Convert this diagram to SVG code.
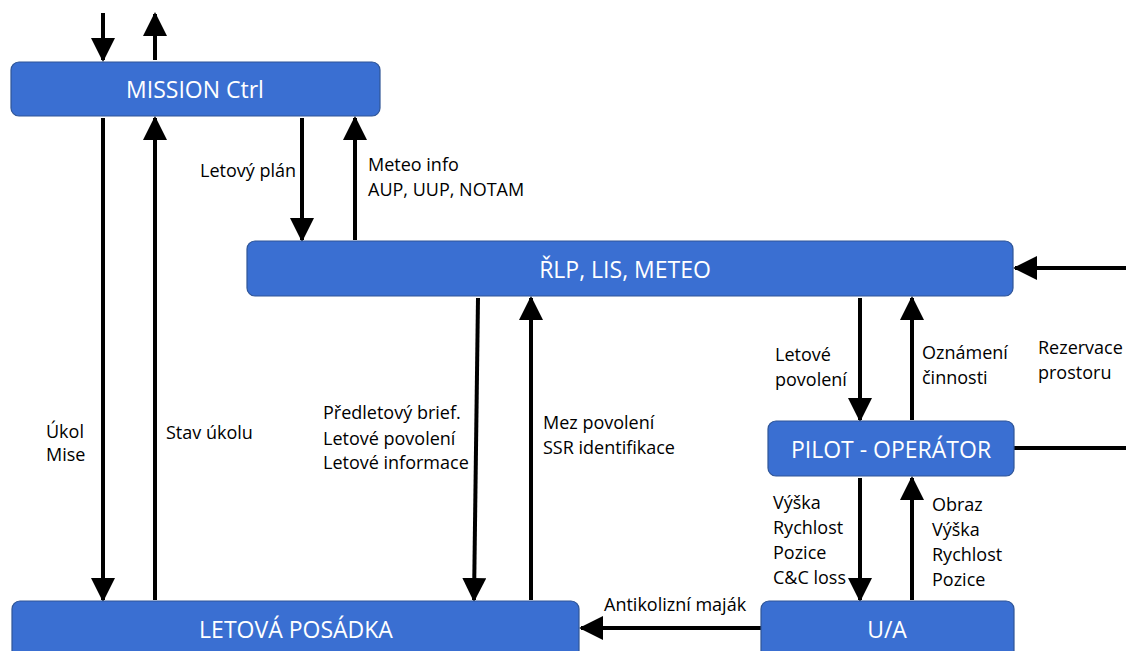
<svg xmlns="http://www.w3.org/2000/svg" width="1126" height="651" viewBox="0 0 1126 651">
<defs>
<marker id="ah" markerWidth="6" markerHeight="6" refX="5.5" refY="3" orient="auto" markerUnits="strokeWidth" viewBox="0 0 6 6">
<path d="M0,0 L6,3 L0,6 Z" fill="#000"/>
</marker>
</defs>
<style>
.box{fill:#3A6FD2;stroke:#2F5597;stroke-width:1.2}
.bt{font-family:"Open Sans","Noto Sans",sans-serif;font-size:23px;fill:#fff;text-anchor:middle}
.lb{font-family:"Open Sans","Noto Sans",sans-serif;font-size:18px;fill:#000}
.ar{stroke:#000;stroke-width:4;fill:none;marker-end:url(#ah)}
.ln{stroke:#000;stroke-width:4;fill:none}
</style>
<rect width="1126" height="651" fill="#fff"/>
<g id="connectors">
<line class="ar" x1="103" y1="13" x2="103" y2="60"/>
<line class="ar" x1="155" y1="60" x2="155" y2="14"/>
<line class="ar" x1="103" y1="118" x2="103" y2="600"/>
<line class="ar" x1="155" y1="600" x2="155" y2="118"/>
<line class="ar" x1="302" y1="118" x2="302" y2="240"/>
<line class="ar" x1="355" y1="240" x2="355" y2="118"/>
<line class="ar" x1="478" y1="298" x2="474" y2="600"/>
<line class="ar" x1="531" y1="600" x2="531" y2="298"/>
<line class="ar" x1="860" y1="298" x2="860" y2="420"/>
<line class="ar" x1="912" y1="420" x2="912" y2="298"/>
<line class="ar" x1="1126" y1="268" x2="1015" y2="268"/>
<line class="ln" x1="1014" y1="448" x2="1126" y2="448"/>
<line class="ar" x1="860" y1="478" x2="860" y2="600"/>
<line class="ar" x1="912" y1="600" x2="912" y2="478"/>
<line class="ar" x1="761" y1="628" x2="581" y2="628"/>
</g>
<g id="mission">
<rect class="box" x="11" y="62" width="369" height="54" rx="8"/>
<text class="bt" x="195" y="98">MISSION Ctrl</text>
</g>
<g id="rlp">
<rect class="box" x="247" y="241" width="766" height="55" rx="8"/>
<text class="bt" x="625" y="278">ŘLP, LIS, METEO</text>
</g>
<g id="pilot">
<rect class="box" x="768" y="421" width="246" height="55" rx="8"/>
<text class="bt" x="891" y="458">PILOT - OPERÁTOR</text>
</g>
<g id="posadka">
<rect class="box" x="12" y="601" width="567" height="60" rx="8"/>
<text class="bt" x="296" y="638">LETOVÁ POSÁDKA</text>
</g>
<g id="ua">
<rect class="box" x="761" y="601" width="253" height="60" rx="8"/>
<text class="bt" x="887" y="638">U/A</text>
</g>
<g id="labels">
<text class="lb" x="200" y="177">Letový plán</text>
<text class="lb" x="368" y="171">Meteo info</text>
<text class="lb" x="368" y="196">AUP, UUP, NOTAM</text>
<text class="lb" x="46" y="438">Úkol</text>
<text class="lb" x="46" y="461">Mise</text>
<text class="lb" x="166" y="439">Stav úkolu</text>
<text class="lb" x="323" y="419">Předletový brief.</text>
<text class="lb" x="323" y="445">Letové povolení</text>
<text class="lb" x="323" y="469">Letové informace</text>
<text class="lb" x="543" y="429">Mez povolení</text>
<text class="lb" x="543" y="454">SSR identifikace</text>
<text class="lb" x="775" y="361">Letové</text>
<text class="lb" x="775" y="386">povolení</text>
<text class="lb" x="922" y="359">Oznámení</text>
<text class="lb" x="922" y="384">činnosti</text>
<text class="lb" x="1038" y="354">Rezervace</text>
<text class="lb" x="1038" y="379">prostoru</text>
<text class="lb" x="773" y="509">Výška</text>
<text class="lb" x="773" y="534">Rychlost</text>
<text class="lb" x="773" y="559">Pozice</text>
<text class="lb" x="773" y="584">C&amp;C loss</text>
<text class="lb" x="932" y="511">Obraz</text>
<text class="lb" x="932" y="536">Výška</text>
<text class="lb" x="932" y="561">Rychlost</text>
<text class="lb" x="932" y="586">Pozice</text>
<text class="lb" x="604" y="611">Antikolizní maják</text>
</g>
</svg>
